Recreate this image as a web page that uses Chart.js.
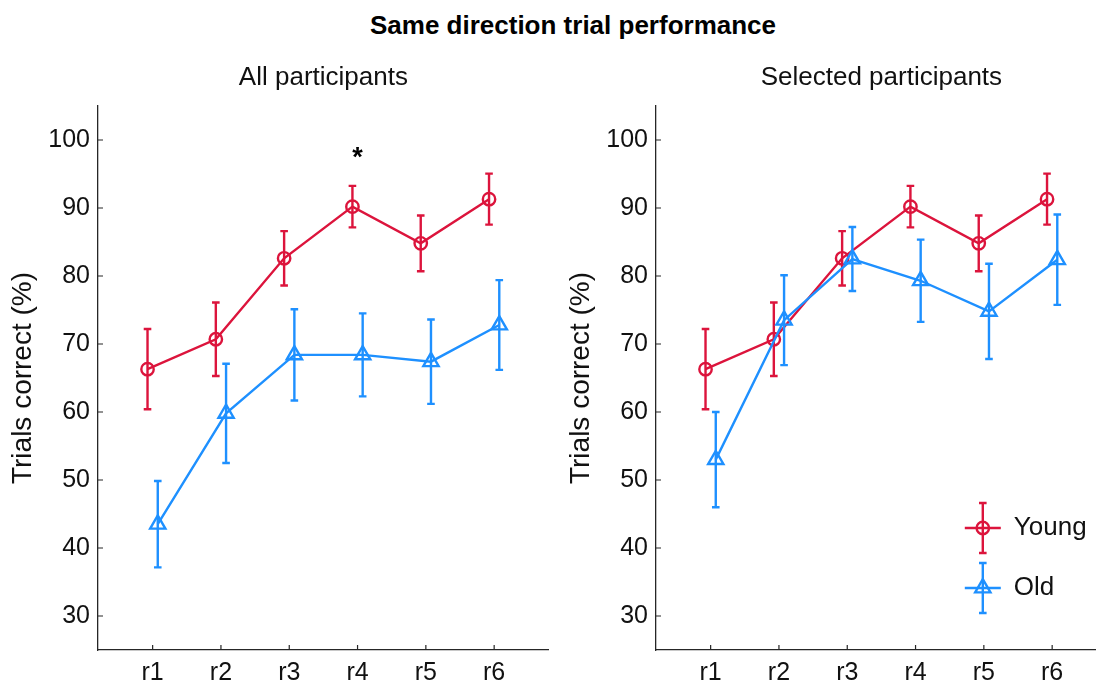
<!DOCTYPE html>
<html>
<head>
<meta charset="utf-8">
<title>Same direction trial performance</title>
<script src="https://cdn.jsdelivr.net/npm/chart.js@4.4.1/dist/chart.umd.min.js"></script>
<style>
  html, body { margin: 0; padding: 0; background: #fff; overflow: hidden; }
  #page { position: relative; width: 1096px; height: 687px; overflow: hidden; }
  #main-title {
    position: absolute; top: 10px; left: 573px; transform: translateX(-50%);
    font: bold 26px "Liberation Sans", Arial, sans-serif; line-height: 30px;
    color: #000; white-space: nowrap;
  }
  canvas { position: absolute; top: 0; }
  #chart-all { left: 0; }
  #chart-selected { left: 558px; }
</style>
</head>
<body>
<div id="page">
  <div id="main-title">Same direction trial performance</div>
  <canvas id="chart-all" width="560" height="687"></canvas>
  <canvas id="chart-selected" width="560" height="687"></canvas>
</div>
<script>
// Rounds and y ticks
const rounds = ["r1", "r2", "r3", "r4", "r5", "r6"];
const yTicks = [30, 40, 50, 60, 70, 80, 90, 100];

// All participants: mean % correct and error bar half-widths
const youngAll = [66.3, 70.7, 82.6, 90.2, 84.8, 91.3];
const youngAllErr = [5.9, 5.4, 4.0, 3.05, 4.1, 3.75];
const oldAll = [43.5, 59.8, 68.4, 68.4, 67.4, 72.8];
const oldAllErr = [6.35, 7.3, 6.7, 6.1, 6.2, 6.6];

// Selected participants
const youngSel = [66.3, 70.7, 82.6, 90.2, 84.8, 91.3];
const youngSelErr = [5.9, 5.4, 4.0, 3.05, 4.1, 3.75];
const oldSel = [53.0, 73.5, 82.5, 79.3, 74.8, 82.4];
const oldSelErr = [7.0, 6.6, 4.7, 6.05, 7.0, 6.65];

// Rounds with a significant young/old difference
const sigAll = ["r4"];
const sigSel = [];

const FONT = '"Liberation Sans", Arial, sans-serif';
const AXIS_COLOR = "#262626";
const TEXT_COLOR = "#111";
const YOUNG_COLOR = "#dc143c";
const OLD_COLOR = "#1e90ff";
const LINE_W = 2.4;
const SHIFT = 0.075; // horizontal dodge between groups

// vertical error bars with small caps
const errorBars = {
  id: "errorBars",
  afterDatasetDraw(chart, args) {
    const ds = chart.data.datasets[args.index];
    if (!ds.errors) return;
    const ctx = chart.ctx;
    const y = chart.scales.y;
    ctx.save();
    ctx.strokeStyle = ds.borderColor;
    ctx.lineWidth = LINE_W;
    args.meta.data.forEach((pt, i) => {
      const v = ds.data[i].y;
      const e = ds.errors[i];
      const top = y.getPixelForValue(v + e);
      const bot = y.getPixelForValue(v - e);
      ctx.beginPath();
      ctx.moveTo(pt.x, top); ctx.lineTo(pt.x, bot);
      ctx.moveTo(pt.x - 3.8, top); ctx.lineTo(pt.x + 3.8, top);
      ctx.moveTo(pt.x - 3.8, bot); ctx.lineTo(pt.x + 3.8, bot);
      ctx.stroke();
    });
    ctx.restore();
  }
};

// tick marks pointing into the plot area
const innerTicks = {
  id: "innerTicks",
  afterDraw(chart) {
    const { ctx, chartArea: a, scales: { x, y } } = chart;
    ctx.save();
    ctx.strokeStyle = AXIS_COLOR;
    ctx.lineWidth = 1.2;
    ctx.beginPath();
    x.ticks.forEach(t => {
      const px = x.getPixelForValue(t.value);
      ctx.moveTo(px, a.bottom); ctx.lineTo(px, a.bottom - 5);
    });
    y.ticks.forEach(t => {
      const py = y.getPixelForValue(t.value);
      ctx.moveTo(a.left, py); ctx.lineTo(a.left + 5, py);
    });
    ctx.stroke();
    ctx.restore();
  }
};

// asterisks above the significant rounds
const sigMarks = {
  id: "sigMarks",
  afterDraw(chart, args, opts) {
    if (!opts.rounds || !opts.rounds.length) return;
    const ds = chart.data.datasets[0];
    const { ctx, scales: { x, y } } = chart;
    ctx.save();
    ctx.fillStyle = "#000";
    ctx.font = "bold 27px " + FONT;
    ctx.textAlign = "center";
    ctx.textBaseline = "alphabetic";
    opts.rounds.forEach(r => {
      const i = rounds.indexOf(r);
      const top = y.getPixelForValue(ds.data[i].y + ds.errors[i]);
      ctx.fillText("*", x.getPixelForValue(i + 1), top - 20);
    });
    ctx.restore();
  }
};

// legend in the lower right corner, with error bar symbols
const inlineLegend = {
  id: "inlineLegend",
  afterDraw(chart, args, opts) {
    if (!opts.display) return;
    const { ctx, chartArea: a } = chart;
    ctx.save();
    chart.data.datasets.forEach((ds, i) => {
      const cy = a.bottom - 122 + i * 60;
      const cx = a.right - 124;
      ctx.strokeStyle = ds.borderColor;
      ctx.lineWidth = LINE_W;
      ctx.beginPath();
      ctx.moveTo(a.right - 142, cy); ctx.lineTo(a.right - 106, cy);
      ctx.moveTo(cx, cy - 25); ctx.lineTo(cx, cy + 25);
      ctx.moveTo(cx - 3.8, cy - 25); ctx.lineTo(cx + 3.8, cy - 25);
      ctx.moveTo(cx - 3.8, cy + 25); ctx.lineTo(cx + 3.8, cy + 25);
      ctx.stroke();
      ctx.fillStyle = "rgba(0,0,0,0)";
      ctx.lineWidth = ds.pointBorderWidth;
      Chart.helpers.drawPoint(ctx, {
        pointStyle: ds.pointStyle, radius: ds.pointRadius, rotation: 0, borderWidth: ds.pointBorderWidth
      }, cx, cy);
      ctx.fillStyle = TEXT_COLOR;
      ctx.font = "26px " + FONT;
      ctx.textAlign = "left";
      ctx.textBaseline = "middle";
      ctx.fillText(ds.label, a.right - 93, cy);
    });
    ctx.restore();
  }
};

function toPoints(values, shift) {
  return values.map((v, i) => ({ x: i + 1 + shift, y: v }));
}

function makeChart(id, subtitle, young, youngErr, old, oldErr, sig, showLegend) {
  const ctx = document.getElementById(id);
  return new Chart(ctx, {
    type: "line",
    data: {
      datasets: [
        {
          label: "Young",
          data: toPoints(young, -SHIFT),
          errors: youngErr,
          borderColor: YOUNG_COLOR,
          backgroundColor: "rgba(0,0,0,0)",
          borderWidth: LINE_W,
          tension: 0,
          pointStyle: "circle",
          pointRadius: 6.2,
          pointBorderWidth: LINE_W,
          pointBorderColor: YOUNG_COLOR,
          pointBackgroundColor: "rgba(0,0,0,0)",
          order: 1
        },
        {
          label: "Old",
          data: toPoints(old, SHIFT),
          errors: oldErr,
          borderColor: OLD_COLOR,
          backgroundColor: "rgba(0,0,0,0)",
          borderWidth: LINE_W,
          tension: 0,
          pointStyle: "triangle",
          pointRadius: 8.8,
          pointBorderWidth: LINE_W,
          pointBorderColor: OLD_COLOR,
          pointBackgroundColor: "rgba(0,0,0,0)",
          order: 0
        }
      ]
    },
    options: {
      responsive: false,
      animation: false,
      events: [],
      layout: { padding: { top: 0, left: 0, right: 10, bottom: 0 } },
      plugins: {
        legend: { display: false },
        tooltip: { enabled: false },
        title: {
          display: true,
          text: subtitle,
          fullSize: false,
          color: TEXT_COLOR,
          font: { family: FONT, size: 26, weight: "normal", lineHeight: 1.2 },
          padding: { top: 62, bottom: 12.8 }
        },
        sigMarks: { rounds: sig },
        inlineLegend: { display: showLegend }
      },
      scales: {
        x: {
          type: "linear",
          min: 0.2,
          max: 6.8,
          grid: { display: false, drawTicks: false },
          border: { display: true, color: AXIS_COLOR, width: 1.3 },
          afterBuildTicks: s => { s.ticks = rounds.map((_, i) => ({ value: i + 1 })); },
          afterFit: s => { s.height = 37; },
          ticks: {
            autoSkip: false,
            maxRotation: 0,
            padding: 8,
            color: TEXT_COLOR,
            font: { family: FONT, size: 25 },
            callback: v => rounds[v - 1]
          }
        },
        y: {
          min: 25,
          max: 105,
          grid: { display: false, drawTicks: false },
          border: { display: true, color: AXIS_COLOR, width: 1.3 },
          afterBuildTicks: s => { s.ticks = yTicks.map(v => ({ value: v })); },
          afterFit: s => { s.width = 98; },
          ticks: {
            autoSkip: false,
            padding: 8,
            color: TEXT_COLOR,
            font: { family: FONT, size: 25 }
          },
          title: {
            display: true,
            text: "Trials correct (%)",
            color: TEXT_COLOR,
            font: { family: FONT, size: 28 },
            padding: { top: 6, bottom: 0 }
          }
        }
      }
    },
    plugins: [errorBars, innerTicks, sigMarks, inlineLegend]
  });
}

makeChart("chart-all", "All participants", youngAll, youngAllErr, oldAll, oldAllErr, sigAll, false);
makeChart("chart-selected", "Selected participants", youngSel, youngSelErr, oldSel, oldSelErr, sigSel, true);
</script>
</body>
</html>
